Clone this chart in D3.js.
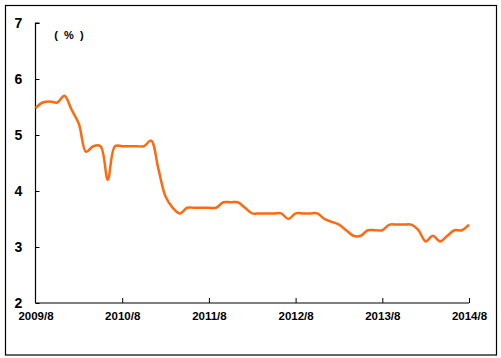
<!DOCTYPE html>
<meta charset="utf-8">
<style>
body { margin: 0; background: #fff; }
svg text { font-family: 'Liberation Sans', Arial, sans-serif; font-weight: bold; fill: #000; }
</style>
<script src="https://d3js.org/d3.v7.min.js"></script>
<div id="chart"></div>
<script>
// months since 2009/8, one value per month
var values = [5.48, 5.58, 5.6, 5.58, 5.7, 5.45, 5.2, 4.7, 4.8, 4.8,
              4.2, 4.8, 4.8, 4.8, 4.8, 4.8, 4.9, 4.4, 3.9, 3.7,
              3.6, 3.7, 3.7, 3.7, 3.7, 3.7, 3.8, 3.8, 3.8, 3.7,
              3.6, 3.6, 3.6, 3.6, 3.6, 3.5, 3.6, 3.6, 3.6, 3.6,
              3.5, 3.45, 3.4, 3.3, 3.2, 3.2, 3.3, 3.3, 3.3, 3.4,
              3.4, 3.4, 3.4, 3.3, 3.1, 3.2, 3.1, 3.2, 3.3, 3.3, 3.4];
var xTickLabels = ["2009/8", "2010/8", "2011/8", "2012/8", "2013/8", "2014/8"];
var yTicks = [2, 3, 4, 5, 6, 7];

var W = 501, H = 358;
var margin = {top: 23, right: 32, bottom: 55, left: 35.5};

var svg = d3.select("#chart").append("svg")
  .attr("width", W).attr("height", H);

// frame round the whole chart
svg.append("rect")
  .attr("x", 5.5).attr("y", 5.5)
  .attr("width", 491).attr("height", 349.5)
  .attr("fill", "none").attr("stroke", "#000").attr("stroke-width", 1.2);

var x = d3.scaleLinear().domain([0, 60]).range([margin.left, W - margin.right]);
var y = d3.scaleLinear().domain([2, 7]).range([H - margin.bottom, margin.top]);

// y axis
var yAxis = svg.append("g")
  .attr("transform", "translate(" + margin.left + ",0)")
  .call(d3.axisRight(y).tickValues(yTicks).tickSize(4).tickFormat(d3.format("d")));
yAxis.select(".domain").attr("stroke-width", 1.2).attr("d", "M0," + y(2) + "V" + y(7) + "H4");
yAxis.selectAll("text").attr("x", -17).attr("text-anchor", "middle").style("font-size", "14px");

// x axis, ticks point up
var xAxis = svg.append("g")
  .attr("transform", "translate(0," + y(2) + ")")
  .call(d3.axisTop(x).tickValues([0, 12, 24, 36, 48, 60]).tickSize(5)
    .tickFormat(function(d, i) { return xTickLabels[i]; }));
xAxis.select(".domain").attr("stroke-width", 1.2).attr("d", "M" + x(0) + ",0H" + x(60));
xAxis.selectAll("text").attr("y", 17).attr("dy", 0).style("font-size", "11.5px");
xAxis.selectAll(".tick").filter(function(d) { return d === 0; }).select("line").remove();

// unit label
svg.append("text").attr("x", 69).attr("y", 39)
  .attr("text-anchor", "middle").style("font-size", "11px")
  .attr("xml:space", "preserve").text("(  %  )");

// the line
var line = d3.line()
  .x(function(d, i) { return x(i); })
  .y(function(d) { return y(d); })
  .curve(d3.curveCatmullRom.alpha(0.5));

svg.append("path").datum(values)
  .attr("d", line)
  .attr("fill", "none")
  .attr("stroke", "#ff6a10")
  .attr("stroke-width", 2.5);
</script>
